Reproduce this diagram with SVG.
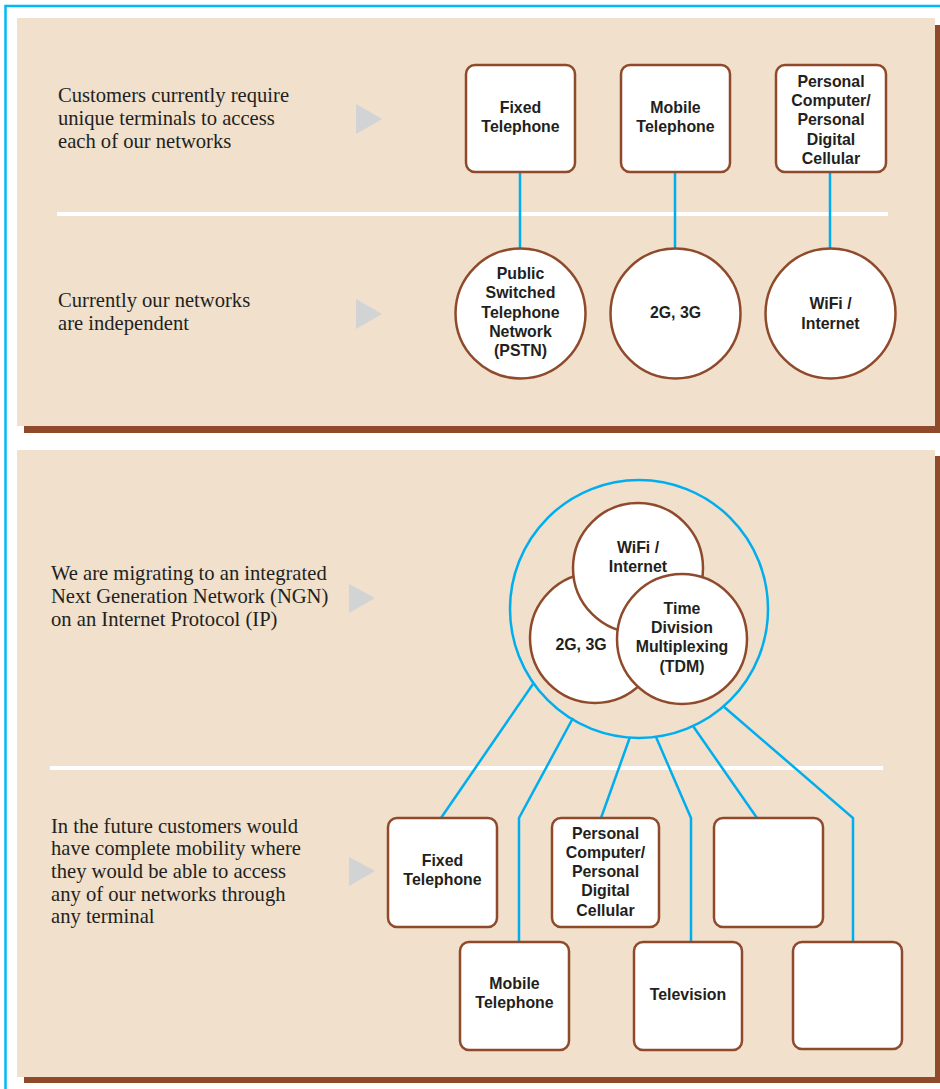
<svg xmlns="http://www.w3.org/2000/svg" width="940" height="1089" viewBox="0 0 940 1089">
<style>
.panel{fill:#f0e0cc}
.shadow{fill:#8f4a2b}
.div{stroke:#ffffff;stroke-width:4}
.tri{fill:#d1d3d4}
.box{fill:#ffffff;stroke:#8f4a2b;stroke-width:2.5}
.circ{fill:#ffffff;stroke:#8f4a2b;stroke-width:2.5}
.desc{font-family:"Liberation Serif","Times New Roman",serif;font-size:20.6px;fill:#231f20}
.lbl{font-family:"Liberation Sans",Arial,Helvetica,sans-serif;font-size:15.9px;font-weight:bold;fill:#231f20;text-anchor:middle}
.conn{fill:none;stroke:#00aeef;stroke-width:2.5}
</style>
<rect width="940" height="1089" fill="#ffffff"/>
<rect x="5.5" y="6" width="940" height="1100" fill="none" stroke="#00b9f2" stroke-width="2.5"/>

<g id="panel-top">
<rect class="shadow" x="24" y="25" width="918" height="408"/>
<rect class="panel" x="17" y="18" width="918" height="408"/>
<line class="div" x1="57" y1="214" x2="888" y2="214"/>
<polygon class="tri" points="356,104 382,119 356,134"/>
<polygon class="tri" points="356,299 382,314 356,329"/>
<text class="desc" x="58" y="102">Customers currently require</text>
<text class="desc" x="58" y="125">unique terminals to access</text>
<text class="desc" x="58" y="148">each of our networks</text>
<text class="desc" x="58" y="307">Currently our networks</text>
<text class="desc" x="58" y="330">are independent</text>
</g>

<g id="panel-bottom">
<rect class="shadow" x="24" y="456" width="918" height="627"/>
<rect class="panel" x="17" y="450" width="918" height="627"/>
<line class="div" x1="50" y1="768" x2="883" y2="768"/>
<polygon class="tri" points="349,584 375,598 349,613"/>
<polygon class="tri" points="349,857 375,871 349,886"/>
<text class="desc" x="51" y="580">We are migrating to an integrated</text>
<text class="desc" x="51" y="603">Next Generation Network (NGN)</text>
<text class="desc" x="51" y="626">on an Internet Protocol (IP)</text>
<text class="desc" x="51" y="833">In the future customers would</text>
<text class="desc" x="51" y="855">have complete mobility where</text>
<text class="desc" x="51" y="878">they would be able to access</text>
<text class="desc" x="51" y="901">any of our networks through</text>
<text class="desc" x="51" y="923">any terminal</text>
</g>

<g id="connectors">
<line class="conn" x1="520" y1="173" x2="520" y2="249"/>
<line class="conn" x1="675" y1="173" x2="675" y2="249"/>
<line class="conn" x1="830" y1="173" x2="830" y2="249"/>
<circle class="conn" cx="639" cy="609" r="129"/>
<polyline class="conn" points="533,684 441,818"/>
<polyline class="conn" points="573,718 519,818 519,942"/>
<polyline class="conn" points="630,737 601,818"/>
<polyline class="conn" points="656,737 691,818 691,942"/>
<polyline class="conn" points="693,726 757,818"/>
<polyline class="conn" points="723,706 853,818 853,942"/>
</g>

<g id="fixed-telephone-top">
<rect class="box" x="466" y="65" width="109" height="107" rx="9"/>
<text class="lbl" x="520.5" y="113">Fixed</text>
<text class="lbl" x="520.5" y="132">Telephone</text>
</g>
<g id="mobile-telephone-top">
<rect class="box" x="621" y="65" width="109" height="107" rx="9"/>
<text class="lbl" x="675.5" y="113">Mobile</text>
<text class="lbl" x="675.5" y="132">Telephone</text>
</g>
<g id="pc-top">
<rect class="box" x="776" y="65" width="110" height="107" rx="9"/>
<text class="lbl" x="831" y="87">Personal</text>
<text class="lbl" x="831" y="106">Computer/</text>
<text class="lbl" x="831" y="125">Personal</text>
<text class="lbl" x="831" y="145">Digital</text>
<text class="lbl" x="831" y="164">Cellular</text>
</g>

<g id="pstn">
<circle class="circ" cx="520.5" cy="313.5" r="65"/>
<text class="lbl" x="520.5" y="279">Public</text>
<text class="lbl" x="520.5" y="298">Switched</text>
<text class="lbl" x="520.5" y="318">Telephone</text>
<text class="lbl" x="520.5" y="337">Network</text>
<text class="lbl" x="520.5" y="356">(PSTN)</text>
</g>
<g id="mobile-net-top">
<circle class="circ" cx="675.5" cy="313.5" r="65"/>
<text class="lbl" x="675.5" y="318">2G, 3G</text>
</g>
<g id="wifi-top">
<circle class="circ" cx="830.5" cy="313.5" r="65"/>
<text class="lbl" x="830.5" y="309">WiFi /</text>
<text class="lbl" x="830.5" y="329">Internet</text>
</g>

<g id="mobile-net-ngn">
<circle class="circ" cx="595" cy="638" r="65"/>
<text class="lbl" x="581" y="650">2G, 3G</text>
</g>
<g id="wifi-ngn">
<circle class="circ" cx="638" cy="568" r="65"/>
<text class="lbl" x="638" y="553">WiFi /</text>
<text class="lbl" x="638" y="572">Internet</text>
</g>
<g id="tdm-ngn">
<circle class="circ" cx="682" cy="639" r="65"/>
<text class="lbl" x="682" y="614">Time</text>
<text class="lbl" x="682" y="633">Division</text>
<text class="lbl" x="682" y="652">Multiplexing</text>
<text class="lbl" x="682" y="672">(TDM)</text>
</g>

<g id="fixed-telephone-bottom">
<rect class="box" x="388" y="818" width="109" height="109" rx="9"/>
<text class="lbl" x="442.5" y="866">Fixed</text>
<text class="lbl" x="442.5" y="885">Telephone</text>
</g>
<g id="pc-bottom">
<rect class="box" x="552" y="818" width="107" height="109" rx="9"/>
<text class="lbl" x="605.5" y="839">Personal</text>
<text class="lbl" x="605.5" y="858">Computer/</text>
<text class="lbl" x="605.5" y="877">Personal</text>
<text class="lbl" x="605.5" y="896">Digital</text>
<text class="lbl" x="605.5" y="916">Cellular</text>
</g>
<g id="empty-top">
<rect class="box" x="714" y="818" width="109" height="109" rx="9"/>
</g>
<g id="mobile-telephone-bottom">
<rect class="box" x="460" y="942" width="109" height="108" rx="9"/>
<text class="lbl" x="514.5" y="989">Mobile</text>
<text class="lbl" x="514.5" y="1008">Telephone</text>
</g>
<g id="television">
<rect class="box" x="634" y="942" width="108" height="108" rx="9"/>
<text class="lbl" x="688" y="1000">Television</text>
</g>
<g id="empty-bottom">
<rect class="box" x="793" y="942" width="109" height="107" rx="9"/>
</g>
</svg>
